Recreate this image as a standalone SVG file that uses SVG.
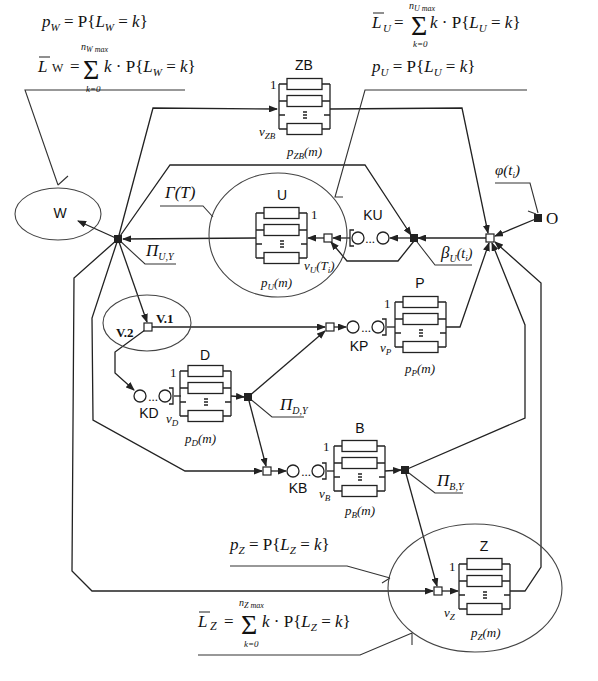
<svg xmlns="http://www.w3.org/2000/svg" xmlns:xlink="http://www.w3.org/1999/xlink" width="598" height="681" viewBox="0 0 598 681">
<style>
.ln{stroke:#222;stroke-width:1.3;fill:none}
.th{stroke:#333;stroke-width:1.1;fill:none}
.ar{marker-end:url(#ah)}
.el{fill:none;stroke:#444;stroke-width:1.1}
.bk{fill:#222;stroke:#222;stroke-width:1}
.wq{fill:#fff;stroke:#222;stroke-width:1.2}
.m{font-family:"Liberation Serif",serif;font-size:17px;fill:#111}
.sm{font-family:"Liberation Serif",serif;font-size:13px;fill:#111}
.i{font-style:italic}
.s{font-family:"Liberation Sans",Arial,sans-serif;font-size:14px;fill:#111}
.b{font-family:"Liberation Serif",serif;font-size:13px;font-weight:bold;fill:#111}
.sig{font-size:28px}
.lim{font-size:10px}
.k0{font-size:9px}
</style>
<defs>
<marker id="ah" markerWidth="9" markerHeight="7" refX="8" refY="3.5" orient="auto" markerUnits="userSpaceOnUse">
<path d="M0,0L9,3.5L0,7z" fill="#222"/>
</marker>
<g id="blk" class="ln">
<path d="M0,-25V20M51,-25V20M0,-25H8M43,-25H51M0,-8H8M43,-8H51M0,6H6M45,6H51M0,20H8M43,20H51M24,3H28M24,6H28M24,9H28"/>
<rect x="8" y="-30.5" width="35" height="11"/>
<rect x="8" y="-13.5" width="35" height="11"/>
<rect x="8" y="14.5" width="35" height="11"/>
</g>
<g id="que" class="ln">
<circle cx="0" cy="0" r="6"/>
<circle cx="25" cy="0" r="6"/>
<path d="M29,-8H33V8H29"/>
</g>
</defs>
<rect width="598" height="681" fill="#fff"/>

<g id="connectors">
<path class="ln ar" d="M118,239L78,221"/>
<path class="ln ar" d="M118,239L153,108L277,109"/>
<path class="ln ar" d="M118,239L170,165L365,165L411,235"/>
<path class="ln ar" d="M256,238L123,239"/>
<path class="ln ar" d="M118,239L147,322"/>
<path class="ln ar" d="M118,239L74,278L72,571L92,591L433,591"/>
<path class="ln ar" d="M118,239L92,318L93,420L185,471L262,471"/>
<path class="ln ar" d="M152,327L325,327"/>
<path class="ln ar" d="M145,330L115,352L115,373L134,390"/>
<path class="ln" d="M174,396H181"/>
<path class="ln ar" d="M231,396L244,397"/>
<path class="ln ar" d="M248,397L325,331"/>
<path class="ln ar" d="M248,397L266,466"/>
<path class="ln ar" d="M271,471L286,471"/>
<path class="ln" d="M327,471H334"/>
<path class="ln ar" d="M385,471L401,470"/>
<path class="ln ar" d="M405,470L437,586"/>
<path class="ln ar" d="M405,470L525,418L525,325L492,243"/>
<path class="ln ar" d="M334,327L346,327"/>
<path class="ln" d="M387,327H395"/>
<path class="ln ar" d="M446,327L460,327L489,243"/>
<path class="ln ar" d="M510,591L525,591L541,567L541,283L495,242"/>
<path class="ln ar" d="M330,109L462,108L488,233"/>
<path class="ln ar" d="M538,218L495,236"/>
<path class="ln ar" d="M486,238L418,238"/>
<path class="ln ar" d="M410,238L390,238"/>
<path class="ln ar" d="M350,238L333,238"/>
<path class="ln ar" d="M324,238L308,238"/>
<path class="ln ar" d="M414,241L398,261L347,261L331,242"/>
<path class="ln ar" d="M442,591L458,591"/>
</g>

<g id="leaders" class="th">
<path d="M185,90H25L58,185M58,185L68,176"/>
<path d="M527,90H365L335,197H343"/>
<path d="M160,206H203L213,217"/>
<path d="M118,239L145,264H176"/>
<path d="M414,238L435,265H472"/>
<path d="M495,183H530L538,213M528,211L536,214"/>
<path d="M248,397L272,417H304"/>
<path d="M405,470L435,493H463"/>
<path d="M230,566H347L390,578M382,583L390,578"/>
<path d="M198,655H360L412,633M412,633V645"/>
</g>

<g id="formulas">
<text class="m" x="42" y="27"><tspan class="i">p</tspan><tspan class="i" font-size="11" dy="4">W</tspan><tspan dy="-4"> = P{</tspan><tspan class="i">L</tspan><tspan class="i" font-size="11" dy="4">W</tspan><tspan dy="-4"> = </tspan><tspan class="i">k</tspan>}</text>
<text class="m i" x="38" y="72">L</text>
<line class="th" x1="39" y1="57" x2="50" y2="57"/>
<text class="m" x="52" y="72" style="font-size:12px">W</text>
<text class="m" x="70" y="72">=</text>
<text class="m sig" x="83" y="79">Σ</text>
<text class="m i lim" x="81" y="50">n<tspan font-size="8" dy="2">W max</tspan></text>
<text class="m i k0" x="86" y="92">k=0</text>
<text class="m" x="104" y="72"><tspan class="i">k</tspan> · P{<tspan class="i">L</tspan><tspan class="i" font-size="11" dy="4">W</tspan><tspan dy="-4"> = </tspan><tspan class="i">k</tspan>}</text>

<text class="m i" x="372" y="28">L</text>
<line class="th" x1="373" y1="13" x2="384" y2="13"/>
<text class="m i" x="383" y="32" style="font-size:11px">U</text>
<text class="m" x="394" y="28">=</text>
<text class="m sig" x="411" y="35">Σ</text>
<text class="m i lim" x="409" y="9">n<tspan font-size="8" dy="2">U max</tspan></text>
<text class="m i k0" x="413" y="47">k=0</text>
<text class="m" x="430" y="28"><tspan class="i">k</tspan> · P{<tspan class="i">L</tspan><tspan class="i" font-size="11" dy="4">U</tspan><tspan dy="-4"> = </tspan><tspan class="i">k</tspan>}</text>
<text class="m" x="372" y="72"><tspan class="i">p</tspan><tspan class="i" font-size="11" dy="4">U</tspan><tspan dy="-4"> = P{</tspan><tspan class="i">L</tspan><tspan class="i" font-size="11" dy="4">U</tspan><tspan dy="-4"> = </tspan><tspan class="i">k</tspan>}</text>

<text class="m" x="230" y="550"><tspan class="i">p</tspan><tspan class="i" font-size="11" dy="4">Z</tspan><tspan dy="-4"> = P{</tspan><tspan class="i">L</tspan><tspan class="i" font-size="11" dy="4">Z</tspan><tspan dy="-4"> = </tspan><tspan class="i">k</tspan>}</text>
<text class="m i" x="198" y="627">L</text>
<line class="th" x1="199" y1="612" x2="210" y2="612"/>
<text class="m i" x="210" y="630" style="font-size:12px">Z</text>
<text class="m" x="224" y="627">=</text>
<text class="m sig" x="241" y="634">Σ</text>
<text class="m i lim" x="239" y="606">n<tspan font-size="8" dy="2">Z max</tspan></text>
<text class="m i k0" x="244" y="647">k=0</text>
<text class="m" x="262" y="627"><tspan class="i">k</tspan> · P{<tspan class="i">L</tspan><tspan class="i" font-size="11" dy="4">Z</tspan><tspan dy="-4"> = </tspan><tspan class="i">k</tspan>}</text>
</g>

<g id="W">
<ellipse class="el" cx="58" cy="214" rx="43" ry="26"/>
<text class="s" x="60" y="218" text-anchor="middle">W</text>
</g>

<g id="hubUY">
<rect class="bk" x="114.5" y="235.5" width="7" height="7"/>
<text class="m i" x="146" y="256">Π<tspan font-size="10" dy="4">U,Y</tspan></text>
</g>

<g id="GammaT">
<text class="m i" x="165" y="198">Γ(T)</text>
</g>

<g id="ZB">
<use href="#blk" xlink:href="#blk" transform="translate(279,109)"/>
<text class="s" x="304" y="70" text-anchor="middle">ZB</text>
<text class="sm" x="270" y="89">1</text>
<text class="sm i" x="259" y="136">v<tspan font-size="9" dy="3">ZB</tspan></text>
<text class="sm i" x="287" y="156">p<tspan font-size="9" dy="3">ZB</tspan><tspan dy="-3">(m)</tspan></text>
</g>

<g id="U">
<ellipse class="el" cx="278" cy="235" rx="69" ry="62"/>
<use href="#blk" xlink:href="#blk" transform="translate(256,238)"/>
<text class="s" x="282" y="200" text-anchor="middle">U</text>
<text class="sm" x="311" y="219">1</text>
<text class="sm i" x="304" y="270">v<tspan font-size="9" dy="3">U</tspan><tspan dy="-3">(T</tspan><tspan font-size="9" dy="3">i</tspan><tspan dy="-3">)</tspan></text>
<text class="sm i" x="261" y="287">p<tspan font-size="9" dy="3">U</tspan><tspan dy="-3">(m)</tspan></text>
<rect class="wq" x="324" y="234" width="8" height="8"/>
</g>

<g id="KU">
<use href="#que" xlink:href="#que" transform="translate(383,238) scale(-1,1)"/>
<text class="sm" x="370" y="243" text-anchor="middle">...</text>
<text class="s" x="373" y="220" text-anchor="middle">KU</text>
<rect class="bk" x="410.5" y="234.5" width="7" height="7"/>
<text class="m i" x="441" y="258">β<tspan font-size="10" dy="4">U</tspan><tspan font-size="14" dy="-4">(t</tspan><tspan font-size="9" dy="3">i</tspan><tspan font-size="14" dy="-3">)</tspan></text>
</g>

<g id="hubR">
<rect class="wq" x="486" y="234" width="8" height="8"/>
</g>

<g id="O">
<rect class="bk" x="534.5" y="214.5" width="7" height="7"/>
<text class="m" x="546" y="224">O</text>
<text class="m i" x="495" y="175" style="font-size:15px">φ(t<tspan font-size="9" dy="3">i</tspan><tspan dy="-3">)</tspan></text>
</g>

<g id="V">
<ellipse class="el" cx="147" cy="323" rx="44" ry="28"/>
<rect class="wq" x="144" y="323" width="8" height="8"/>
<text class="b" x="156" y="323">V.1</text>
<text class="b" x="116" y="337">V.2</text>
</g>

<g id="P">
<rect class="wq" x="326" y="323" width="8" height="8"/>
<use href="#que" xlink:href="#que" transform="translate(353,327)"/>
<text class="sm" x="366" y="332" text-anchor="middle">...</text>
<text class="s" x="359" y="351" text-anchor="middle">KP</text>
<use href="#blk" xlink:href="#blk" transform="translate(395,327)"/>
<text class="s" x="420" y="288" text-anchor="middle">P</text>
<text class="sm" x="384" y="308">1</text>
<text class="sm i" x="380" y="352">v<tspan font-size="9" dy="3">P</tspan></text>
<text class="sm i" x="405" y="373">p<tspan font-size="9" dy="3">P</tspan><tspan dy="-3">(m)</tspan></text>
</g>

<g id="D">
<use href="#que" xlink:href="#que" transform="translate(140,396)"/>
<text class="sm" x="153" y="401" text-anchor="middle">...</text>
<text class="s" x="149" y="418" text-anchor="middle">KD</text>
<use href="#blk" xlink:href="#blk" transform="translate(180,396)"/>
<text class="s" x="205" y="360" text-anchor="middle">D</text>
<text class="sm" x="170" y="377">1</text>
<text class="sm i" x="166" y="423">v<tspan font-size="9" dy="3">D</tspan></text>
<text class="sm i" x="185" y="443">p<tspan font-size="9" dy="3">D</tspan><tspan dy="-3">(m)</tspan></text>
<rect class="bk" x="244.5" y="393.5" width="7" height="7"/>
<text class="m i" x="280" y="410">Π<tspan font-size="10" dy="4">D,Y</tspan></text>
</g>

<g id="B">
<rect class="wq" x="263" y="467" width="8" height="8"/>
<use href="#que" xlink:href="#que" transform="translate(293,471)"/>
<text class="sm" x="306" y="476" text-anchor="middle">...</text>
<text class="s" x="298" y="493" text-anchor="middle">KB</text>
<use href="#blk" xlink:href="#blk" transform="translate(334,471)"/>
<text class="s" x="360" y="433" text-anchor="middle">B</text>
<text class="sm" x="323" y="451">1</text>
<text class="sm i" x="319" y="498">v<tspan font-size="9" dy="3">B</tspan></text>
<text class="sm i" x="345" y="515">p<tspan font-size="9" dy="3">B</tspan><tspan dy="-3">(m)</tspan></text>
<rect class="bk" x="401.5" y="466.5" width="7" height="7"/>
<text class="m i" x="437" y="486">Π<tspan font-size="10" dy="4">B,Y</tspan></text>
</g>

<g id="Z">
<ellipse class="el" cx="475" cy="588" rx="87" ry="64"/>
<rect class="wq" x="434" y="587" width="8" height="8"/>
<use href="#blk" xlink:href="#blk" transform="translate(459,589)"/>
<text class="s" x="484" y="551" text-anchor="middle">Z</text>
<text class="sm" x="449" y="571">1</text>
<text class="sm i" x="444" y="617">v<tspan font-size="9" dy="3">Z</tspan></text>
<text class="sm i" x="471" y="637">p<tspan font-size="9" dy="3">Z</tspan><tspan dy="-3">(m)</tspan></text>
</g>
</svg>
